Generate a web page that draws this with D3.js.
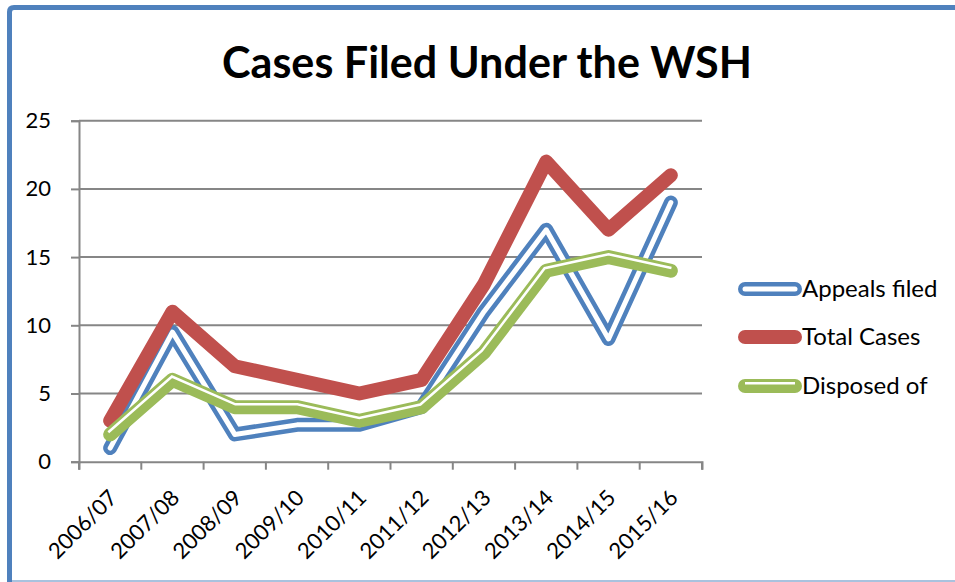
<!DOCTYPE html>
<html>
<head>
<meta charset="utf-8">
<script src="https://cdn.jsdelivr.net/npm/d3@7"></script>
<style>
  html, body { margin: 0; padding: 0; background: #fff; }
  svg { display: block; }
  text { font-family: Lato, "Open Sans", sans-serif; fill: #000; }
</style>
</head>
<body>
<svg id="chart" width="955" height="582"></svg>
<script>
var categories = ["2006/07", "2007/08", "2008/09", "2009/10", "2010/11", "2011/12", "2012/13", "2013/14", "2014/15", "2015/16"];
var appealsFiled = [1, 9.5, 2, 2.7, 2.7, 4, 11, 17, 9, 19];
var totalCases = [3, 11, 7, 6, 5, 6, 13, 22, 17, 21];
var disposedOf = [2, 6, 4, 4, 3, 4, 8, 14, 15, 14];
var yTicks = [0, 5, 10, 15, 20, 25];
var seriesNames = ["Appeals filed", "Total Cases", "Disposed of"];

var blue = "#4f81bd", red = "#c0504d", green = "#9bbb59", grid = "#868686";
var lw = 14;

var svg = d3.select("#chart");

// frame (only top/left visible, rest cropped)
svg.append("path")
    .attr("d", "M9.5,582 L9.5,12 Q9.5,7.5 14,7.5 L955,7.5")
    .attr("fill", "none")
    .attr("stroke", blue)
    .attr("stroke-width", 5);
svg.append("line")
    .attr("x1", 12).attr("x2", 955)
    .attr("y1", 581).attr("y2", 581)
    .attr("stroke", "#a9c2de")
    .attr("stroke-width", 2);

svg.append("text")
    .attr("x", 487)
    .attr("y", 78)
    .attr("text-anchor", "middle")
    .attr("font-size", 44)
    .attr("font-weight", "bold")
    .attr("textLength", 530)
    .attr("lengthAdjust", "spacingAndGlyphs")
    .text("Cases Filed Under the WSH");

var margin = {left: 79, right: 702, top: 120.7, bottom: 461.7};

var x = d3.scaleBand()
    .domain(categories)
    .range([margin.left, margin.right]);

var y = d3.scaleLinear()
    .domain([0, 25])
    .range([margin.bottom, margin.top]);

var g = svg.append("g");

// gridlines
g.selectAll(".grid")
    .data(yTicks.filter(function(d) { return d > 0; }))
    .enter().append("line")
    .attr("class", "grid")
    .attr("x1", margin.left).attr("x2", margin.right)
    .attr("y1", function(d) { return y(d); })
    .attr("y2", function(d) { return y(d); })
    .attr("stroke", grid)
    .attr("stroke-width", 2);

var yAxis = g.append("g")
    .attr("transform", "translate(" + margin.left + ",0)")
    .call(d3.axisLeft(y).tickValues(yTicks).tickSize(8).tickPadding(20));

var xAxis = g.append("g")
    .attr("transform", "translate(0," + margin.bottom + ")")
    .call(d3.axisBottom(x).tickSize(8).tickSizeOuter(8));

[yAxis, xAxis].forEach(function(a) {
  a.select(".domain").attr("stroke", grid).attr("stroke-width", 2);
  a.selectAll(".tick line").attr("stroke", grid).attr("stroke-width", 2);
});
yAxis.selectAll(".tick text")
    .attr("font-size", 22)
    .attr("font-family", "Lato, sans-serif");

// x ticks sit on band boundaries, not centres
xAxis.selectAll(".tick line")
    .attr("transform", "translate(" + (-x.bandwidth() / 2) + ",0)");
xAxis.append("line")
    .attr("x1", margin.right).attr("x2", margin.right)
    .attr("y1", 0).attr("y2", 8)
    .attr("stroke", grid).attr("stroke-width", 2);

xAxis.selectAll(".tick text")
    .attr("font-size", 22)
    .attr("font-family", "Lato, sans-serif")
    .attr("text-anchor", "end")
    .attr("transform", "translate(3,32) rotate(-45)")
    .attr("y", 0)
    .attr("dy", "0.35em");

function pts(values) {
  return values.map(function(v, i) {
    return [x(categories[i]) + x.bandwidth() / 2, y(v)];
  });
}

// parallel offset of a polyline (positive = upward side when going right)
function offsetPts(p, d) {
  var n = [];
  for (var i = 0; i < p.length - 1; i++) {
    var dx = p[i + 1][0] - p[i][0], dy = p[i + 1][1] - p[i][1];
    var len = Math.sqrt(dx * dx + dy * dy);
    n.push([dy / len, -dx / len]);
  }
  var out = [];
  for (var j = 0; j < p.length; j++) {
    var nn;
    if (j == 0) nn = n[0];
    else if (j == p.length - 1) nn = n[n.length - 1];
    else {
      var mx = n[j - 1][0] + n[j][0], my = n[j - 1][1] + n[j][1];
      var ml = Math.sqrt(mx * mx + my * my);
      mx /= ml; my /= ml;
      var dot = mx * n[j][0] + my * n[j][1];
      nn = [mx / dot, my / dot];
    }
    out.push([p[j][0] + nn[0] * d, p[j][1] + nn[1] * d]);
  }
  return out;
}

var line = d3.line();

function stroke(parent, points, color, width) {
  parent.append("path")
      .attr("d", line(points))
      .attr("fill", "none")
      .attr("stroke", color)
      .attr("stroke-width", width)
      .attr("stroke-linejoin", "round")
      .attr("stroke-linecap", "round");
}

// double line
function drawAppeals(parent, points) {
  stroke(parent, points, blue, lw);
  stroke(parent, points, "#fff", 5);
}
function drawTotal(parent, points) {
  stroke(parent, points, red, lw);
}
// thin-thick line, thin side on top
function drawDisposed(parent, points) {
  stroke(parent, points, green, lw);
  parent.append("path")
      .attr("d", line(offsetPts(points, 2.8)))
      .attr("fill", "none")
      .attr("stroke", "#fff")
      .attr("stroke-width", 2.5)
      .attr("stroke-linejoin", "miter")
      .attr("stroke-linecap", "butt");
}

var plot = svg.append("g");
drawAppeals(plot, pts(appealsFiled));
drawTotal(plot, pts(totalCases));
drawDisposed(plot, pts(disposedOf));

// legend
var legendY = [289, 337, 386];
var drawers = [drawAppeals, drawTotal, drawDisposed];
var legend = svg.append("g");
seriesNames.forEach(function(name, i) {
  var ly = legendY[i];
  drawers[i](legend, [[745, ly], [795, ly]]);
  legend.append("text")
      .attr("x", 802)
      .attr("y", ly)
      .attr("dy", "0.35em")
      .attr("font-size", 24)
      .text(name);
});
</script>
</body>
</html>
